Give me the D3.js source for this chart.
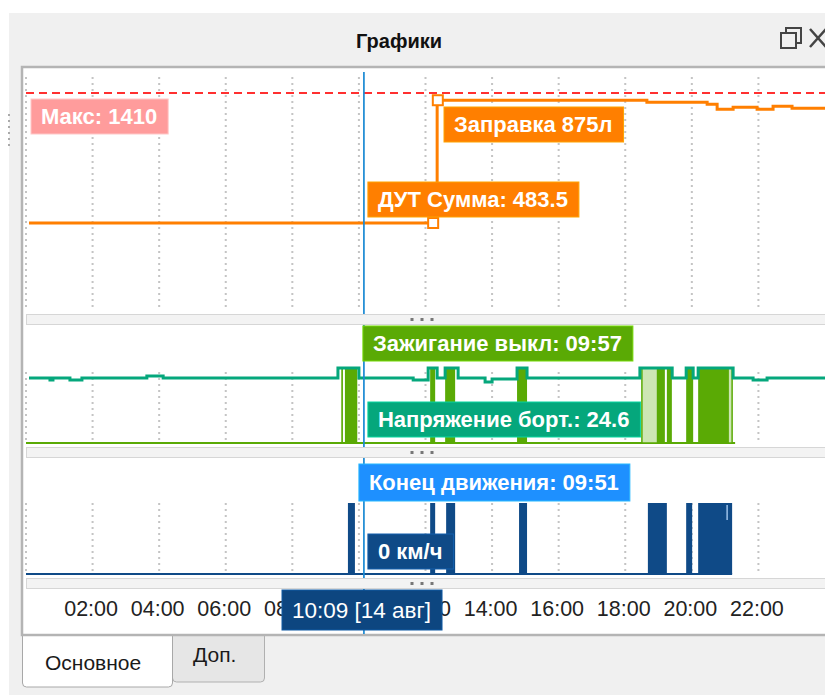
<!DOCTYPE html>
<html>
<head>
<meta charset="utf-8">
<script src="https://cdn.jsdelivr.net/npm/d3@7"></script>
<style>
html, body { margin: 0; padding: 0; background: #fff; overflow: hidden; }
svg { display: block; font-family: "Liberation Sans", Arial, sans-serif; }
</style>
</head>
<body>
<script>
// hours of the day (14 aug)
var gridHours = [0, 2, 4, 6, 8, 10, 12, 14, 16, 18, 20, 22];
var tickHours = [2, 4, 6, 8, 10, 12, 14, 16, 18, 20, 22];
var tickLabels = ["02:00", "04:00", "06:00", "08:00", "10:00", "12:00", "14:00", "16:00", "18:00", "20:00", "22:00"];

// fuel sum, litres [hour, value]
var fuelPoints = [[0.09, 483.5], [12.35, 1358.5], [18.65, 1344], [20.46, 1330], [20.76, 1294],
	[21.24, 1309], [21.96, 1294], [22.44, 1316], [23.01, 1301], [24, 1301]];
var refuelPoints = [[12.23, 483.5], [12.37, 1358.5]];
var fuelMax = 1410;
var refuelVolume = 875;

// board voltage [hour, volts]
var voltagePoints = [[0.09, 24.6], [0.72, 23.9], [0.81, 24.6], [1.32, 23.9], [1.68, 24.6],
	[3.63, 25.3], [4.12, 24.6], [9.37, 28.0], [10.0, 24.6], [11.63, 23.9], [12.08, 28.0],
	[12.35, 24.6], [12.59, 28.0], [12.98, 24.6], [13.79, 23.2], [14.0, 24.3], [14.75, 28.0],
	[15.05, 24.6], [18.44, 28.0], [19.41, 24.6], [19.83, 28.0], [20.04, 24.6], [20.19, 28.0],
	[21.24, 24.6], [21.84, 23.9], [22.26, 24.6], [24, 24.6]];

// ignition on intervals [from, to]
var ignitionOn = [[9.47, 9.52], [9.58, 9.95], [12.14, 12.29], [12.59, 12.89], [14.75, 15.05],
	[18.97, 19.19], [19.25, 19.40], [19.83, 20.04], [20.19, 21.09]];
var ignitionPartial = [[18.50, 18.97], [21.09, 21.21]];
var ignitionEnd = 21.3;

// movement intervals [from, to, km/h]
var speedBars = [[9.67, 9.88, 85], [12.14, 12.29, 85], [12.62, 12.89, 85], [14.81, 15.05, 85],
	[18.68, 19.25, 85], [19.83, 20.01, 85], [20.19, 21.21, 85]];
var speedEnd = 21.21;

var cursorHour = 10.15;

var W = 825, H = 695;
var orange = "#ff7f00", teal = "#05a77c", green = "#5aaa05", navy = "#0f4a87", blue = "#1a8ad4";

var svg = d3.select("body").append("svg").attr("width", W).attr("height", H);

// window chrome
svg.append("rect").attr("x", 9).attr("y", 13).attr("width", W).attr("height", H).attr("fill", "#f0f0f0");
svg.append("text").attr("x", 399).attr("y", 48).attr("text-anchor", "middle")
	.attr("font-size", 20).attr("font-weight", "bold").attr("fill", "#111").text("Графики");
var icon = svg.append("g").attr("fill", "none").attr("stroke", "#444").attr("stroke-width", 2);
icon.append("path").attr("d", "M786,33V28H801V43H796");
icon.append("rect").attr("x", 781).attr("y", 33).attr("width", 15).attr("height", 15);
icon.append("path").attr("d", "M810,29L826,47M826,29L810,47").attr("stroke-width", 2.5);
svg.selectAll(".splitdot").data(d3.range(6)).join("rect")
	.attr("x", 8).attr("y", function(d) { return 114 + d * 6; })
	.attr("width", 2).attr("height", 2).attr("fill", "#aaa");

// tabs
svg.append("path").attr("d", "M172.5,636V678Q172.5,682 176.5,682H260.5Q264.5,682 264.5,678V636")
	.attr("fill", "#e6e6e6").attr("stroke", "#b0b0b0");
svg.append("path").attr("d", "M22.5,636V683Q22.5,687 26.5,687H168.5Q172.5,687 172.5,683V636")
	.attr("fill", "#fff").attr("stroke", "#a8a8a8");
svg.append("text").attr("x", 45).attr("y", 670).attr("font-size", 21).attr("fill", "#1a1a1a").text("Основное");
svg.append("text").attr("x", 193).attr("y", 662).attr("font-size", 21).attr("fill", "#1a1a1a").text("Доп.");

// chart frame
svg.append("rect").attr("x", 22).attr("y", 67).attr("width", 900).attr("height", 568)
	.attr("fill", "#fff").attr("stroke", "#b4b4b4").attr("stroke-width", 2.5);

var x = d3.scaleLinear().domain([0, 24]).range([26, 825]);
var yFuel = d3.scaleLinear().domain([483.5, fuelMax]).range([223, 93]);
var yVolt = d3.scaleLinear().domain([24.6, 28]).range([378, 368]);
var yIgn = d3.scaleLinear().domain([0, 1]).range([443, 368]);
var ySpeed = d3.scaleLinear().domain([0, 85]).range([574, 503]);

// dotted grid per panel
var panels = [[77, 307], [372, 440], [503, 572]];
panels.forEach(function(p) {
	svg.append("g").selectAll("line").data(gridHours).join("line")
		.attr("x1", function(d) { return x(d); }).attr("x2", function(d) { return x(d); })
		.attr("y1", p[0]).attr("y2", p[1])
		.attr("stroke", "#c4c4c4").attr("stroke-width", 2).attr("stroke-dasharray", "2,4");
});

// fuel panel
svg.append("line").attr("x1", 26).attr("x2", W).attr("y1", yFuel(fuelMax)).attr("y2", yFuel(fuelMax))
	.attr("stroke", "#ff3030").attr("stroke-width", 2).attr("stroke-dasharray", "8,5");
var stepLine = function(ys) {
	return d3.line().curve(d3.curveStepAfter).x(function(d) { return x(d[0]); }).y(function(d) { return ys(d[1]); });
};
svg.append("path").datum(fuelPoints).attr("d", stepLine(yFuel))
	.attr("fill", "none").attr("stroke", orange).attr("stroke-width", 3);
svg.selectAll(".refuel").data(refuelPoints).join("rect")
	.attr("x", function(d) { return x(d[0]) - 5; }).attr("y", function(d) { return yFuel(d[1]) - 5; })
	.attr("width", 10).attr("height", 10).attr("fill", "#fff").attr("stroke", orange).attr("stroke-width", 2);

// ignition + voltage panel
svg.append("line").attr("x1", 26).attr("x2", x(ignitionEnd)).attr("y1", yIgn(0)).attr("y2", yIgn(0))
	.attr("stroke", green).attr("stroke-width", 2);
svg.selectAll(".ignp").data(ignitionPartial).join("rect")
	.attr("x", function(d) { return x(d[0]); }).attr("y", yIgn(1))
	.attr("width", function(d) { return x(d[1]) - x(d[0]); }).attr("height", yIgn(0) - yIgn(1))
	.attr("fill", "#cde6b4").attr("stroke", green).attr("stroke-width", 1.5);
svg.selectAll(".ign").data(ignitionOn).join("rect")
	.attr("x", function(d) { return x(d[0]); }).attr("y", yIgn(1))
	.attr("width", function(d) { return Math.max(1.5, x(d[1]) - x(d[0])); }).attr("height", yIgn(0) - yIgn(1))
	.attr("fill", green);
svg.append("path").datum(voltagePoints).attr("d", stepLine(yVolt))
	.attr("fill", "none").attr("stroke", teal).attr("stroke-width", 3);

// speed panel
svg.append("line").attr("x1", 26).attr("x2", x(speedEnd)).attr("y1", ySpeed(0)).attr("y2", ySpeed(0))
	.attr("stroke", navy).attr("stroke-width", 2);
svg.selectAll(".spd").data(speedBars).join("rect")
	.attr("x", function(d) { return x(d[0]); }).attr("y", function(d) { return ySpeed(d[2]); })
	.attr("width", function(d) { return x(d[1]) - x(d[0]); })
	.attr("height", function(d) { return ySpeed(0) - ySpeed(d[2]); })
	.attr("fill", navy);
svg.append("line").attr("x1", x(21.06)).attr("x2", x(21.06)).attr("y1", 505).attr("y2", 520)
	.attr("stroke", "#9cc2ea").attr("stroke-width", 1.5);

// cursor
var cx = x(cursorHour);
svg.append("line").attr("x1", cx).attr("x2", cx).attr("y1", 72).attr("y2", 634)
	.attr("stroke", blue).attr("stroke-width", 1.7);

// splitters
[314, 447, 578].forEach(function(sy) {
	svg.append("rect").attr("x", 26.5).attr("y", sy + 0.5).attr("width", 900).attr("height", 10)
		.attr("fill", "#f3f3f3").attr("stroke", "#d6d6d6");
	svg.selectAll(null).data([-10, 0, 10]).enter().append("rect")
		.attr("x", function(d) { return 422 + d - 1.5; }).attr("y", sy + 4)
		.attr("width", 3).attr("height", 3).attr("fill", "#777");
});

// time axis
var axis = d3.axisBottom(x).tickValues(tickHours).tickSize(0).tickPadding(0)
	.tickFormat(function(d, i) { return tickLabels[i]; });
var ax = svg.append("g").attr("transform", "translate(-2,601)").call(axis);
ax.select(".domain").remove();
ax.selectAll("text").attr("font-size", 21.5).attr("font-family", "\"Liberation Sans\", Arial, sans-serif").attr("fill", "#222");

// value labels
function label(px, py, h, text, fill, weight, size) {
	var g = svg.append("g").attr("transform", "translate(" + px + "," + py + ")");
	var r = g.append("rect").attr("height", h).attr("fill", fill)
		.attr("stroke", d3.color(fill).brighter(0.7)).attr("stroke-width", 1);
	var t = g.append("text").attr("x", 10).attr("y", h / 2).attr("dy", "0.36em")
		.attr("fill", "#fff").attr("font-size", size || 22).attr("font-weight", weight || "bold").text(text);
	r.attr("width", t.node().getComputedTextLength() + 21);
}
label(31, 99, 35, "Макс: " + fuelMax, "#ff9c9c");
label(444, 107, 35, "Заправка " + refuelVolume + "л", orange);
label(cx + 4, 182, 35, "ДУТ Сумма: " + fuelPoints[0][1], orange);
label(cx - 1, 326, 35, "Зажигание выкл: 09:57", green);
label(cx + 4, 402, 35, "Напряжение борт.: 24.6", teal);
label(cx - 5, 464, 37, "Конец движения: 09:51", "#1e90ff");
label(cx + 4, 534, 35, "0 км/ч", navy);
label(282, 590, 40, "10:09 [14 авг]", "#0d4680", "normal", 22.5);
</script>
</body>
</html>
